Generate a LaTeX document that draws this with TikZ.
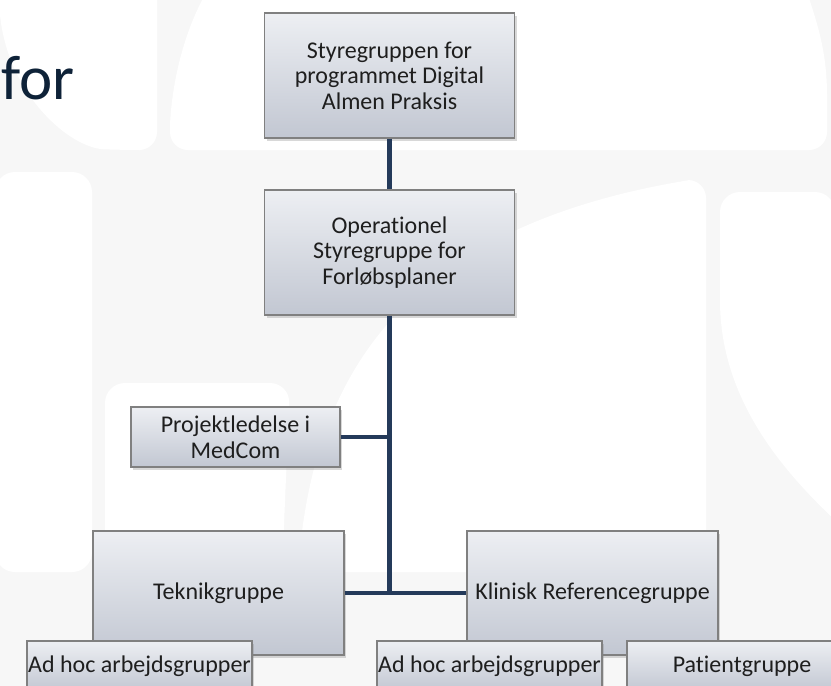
\documentclass[tikz,border=0pt]{standalone}
\usepackage{fontspec}
\setmainfont{Carlito}[Ligatures=NoCommon]
\usetikzlibrary{shadows}
\definecolor{bggray}{HTML}{F7F7F7}
\definecolor{boxtop}{HTML}{EDEFF3}
\definecolor{boxbot}{HTML}{C2C7D2}
\definecolor{boxline}{HTML}{808080}
\definecolor{linkcol}{HTML}{243A5A}
\definecolor{txt}{HTML}{1E1E1E}
\definecolor{titlecol}{HTML}{0E2238}
\begin{document}
\begin{tikzpicture}[x=1pt,y=-1pt,
  orgbox/.style={draw=boxline, line width=1.3pt, top color=boxtop, bottom color=boxbot,
    drop shadow={opacity=0.3, shadow xshift=2pt, shadow yshift=-2.5pt},
    align=center, text=txt, font=\fontsize{24}{25.5}\selectfont, inner sep=0pt},
  link/.style={draw=linkcol, line width=4.5pt},
  wshape/.style={fill=white}]
\useasboundingbox (0,0) rectangle (831,686);
\clip (0,0) rectangle (831,686);
% background watermark
\fill[bggray] (0,0) rectangle (831,686);
\fill[wshape] (0,-5) -- (157,-5) [rounded corners=18pt] -- (157,150) -- (122,150) [sharp corners]
  .. controls (70,148) and (8,95) .. (0,15) -- cycle;
\fill[wshape] (205,-5) -- (808,-5) .. controls (816,20) and (827,50) .. (827,95)
  [rounded corners=18pt] -- (827,150) -- (170,150) [sharp corners] -- (170,125)
  .. controls (172,80) and (185,30) .. (205,-5);
\fill[wshape, rounded corners=20pt] (-5,172) -- (92,172) -- (92,572) -- (-5,572) -- cycle;
\fill[wshape, rounded corners=20pt] (105,572) -- (105,383) -- (290,383) -- (282,572) -- cycle;
\fill[wshape] (298,572) .. controls (310,400) and (380,230) .. (690,180)
  [rounded corners=18pt] -- (706,180) -- (706,572) [sharp corners] -- cycle;
\fill[wshape] (835,520) .. controls (760,450) and (720,380) .. (720,300)
  [rounded corners=20pt] -- (720,192) -- (835,192) [sharp corners] -- cycle;
% title fragment
\node[anchor=base east, font=\fontsize{63}{68}\selectfont, text=titlecol, inner sep=0pt]
  (title) at (75,99) {for};
% boxes
\node[orgbox, minimum width=250pt, minimum height=125pt] (top) at (389.5,75.5)
  {Styregruppen for\\programmet Digital\\Almen Praksis};
\node[orgbox, minimum width=250pt, minimum height=125pt] (op) at (389.5,252.5)
  {Operationel\\Styregruppe for\\Forløbsplaner};
\node[orgbox, minimum width=209pt, minimum height=60pt] (pro) at (235.5,437)
  {Projektledelse i\\MedCom};
\node[orgbox, minimum width=251pt, minimum height=124pt] (tek) at (218.5,593)
  {Teknikgruppe};
\node[orgbox, minimum width=251pt, minimum height=124pt] (kli) at (592.5,593)
  {Klinisk Referencegruppe};
\node[orgbox, minimum width=225pt, minimum height=50pt] (ad1) at (139.5,666)
  {Ad hoc arbejdsgrupper};
\node[orgbox, minimum width=225pt, minimum height=50pt] (ad2) at (489.5,666)
  {Ad hoc arbejdsgrupper};
\node[orgbox, minimum width=230pt, minimum height=50pt] (pat) at (742,666)
  {Patientgruppe};
% connectors
\draw[link] (top.south) -- (op.north);
\draw[link] (op.south) -- (op.south |- tek.east);
\draw[link] (pro.east) -- (pro.east -| op.south);
\draw[link] (tek.east) -- (kli.west);
\end{tikzpicture}
\end{document}
